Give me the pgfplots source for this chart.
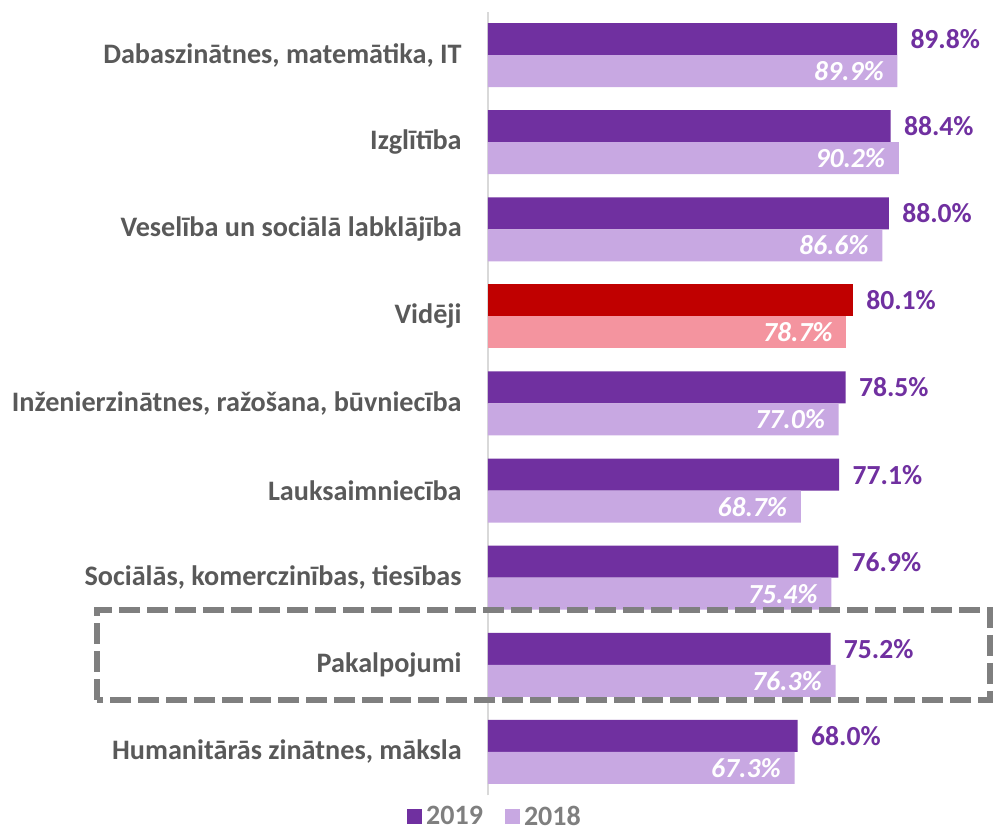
\documentclass[border=0pt]{standalone}
\usepackage{fontspec}
\setmainfont{Carlito}
\usepackage{pgfplots}
\pgfplotsset{compat=1.18}
\definecolor{Purple}{HTML}{7030A0}
\definecolor{Lilac}{HTML}{C8A8E2}
\definecolor{DarkRed}{HTML}{C00000}
\definecolor{Pink}{HTML}{F4949F}
\definecolor{LabelGray}{HTML}{595959}
\definecolor{LegGray}{HTML}{7F7F7F}
\definecolor{AxisGray}{HTML}{D9D9D9}
\definecolor{BoxGray}{HTML}{7F7F7F}

\begin{document}
\begin{tikzpicture}
\useasboundingbox (0,0) rectangle (496.5pt,415pt);
\begin{axis}[
  at={(244pt,17.25pt)}, anchor=south west,
  scale only axis, width=227.75pt, height=392pt,
  xmin=0, xmax=100, ymin=-0.5, ymax=8.5,
  xbar, bar width=16pt,
  hide x axis,
  axis y line*=left,
  y axis line style={draw=AxisGray, line width=1pt, -},
  ytick={0,...,8},
  major tick length=0pt,
  yticklabels={{Humanitārās zinātnes, māksla},{Pakalpojumi},{Sociālās, komerczinības, tiesības},{Lauksaimniecība},{Inženierzinātnes, ražošana, būvniecība},{Vidēji},{Veselība un sociālā labklājība},{Izglītība},{Dabaszinātnes, matemātika, IT}},
  yticklabel style={font=\fontsize{14.1}{16}\selectfont\bfseries, text=LabelGray, inner sep=0pt, xshift=-13pt},
  point meta=x,
  nodes near coords={\pgfmathprintnumber[fixed,fixed zerofill,precision=1,assume math mode=true]{\pgfplotspointmeta}\%},
  legend columns=2,
  legend style={at={(rel axis cs:0.0176,-0.0274)}, anchor=center, draw=none, fill=none,
    font=\fontsize{14}{16}\selectfont\bfseries, text=LegGray,
    /tikz/every even column/.append style={column sep=9pt}},
  legend image code/.code={\fill[#1] (0pt,-3.75pt) rectangle (7.5pt,3.75pt);},
]
\addplot[fill=Purple, draw=none, bar shift=8pt,
  every node near coord/.append style={font=\fontsize{13.8}{16}\selectfont\bfseries, text=Purple, anchor=west, xshift=3.2pt}]
  coordinates {(89.8,8) (88.4,7) (88.0,6) (78.5,4) (77.1,3) (76.9,2) (75.2,1) (68.0,0)};
\addlegendentry{\textbf{2019}}
\addplot[fill=Lilac, draw=none, bar shift=-8pt,
  every node near coord/.append style={font=\fontsize{13.8}{16}\selectfont\bfseries\itshape, text=white, anchor=east, xshift=-3.4pt}]
  coordinates {(89.9,8) (90.2,7) (86.6,6) (77.0,4) (68.7,3) (75.4,2) (76.3,1) (67.3,0)};
\addlegendentry{\textbf{2018}}
\addplot[fill=DarkRed, draw=none, bar shift=8pt, forget plot,
  every node near coord/.append style={font=\fontsize{13.8}{16}\selectfont\bfseries, text=Purple, anchor=west, xshift=3.2pt}]
  coordinates {(80.1,5)};
\addplot[fill=Pink, draw=none, bar shift=-8pt, forget plot,
  every node near coord/.append style={font=\fontsize{13.8}{16}\selectfont\bfseries\itshape, text=white, anchor=east, xshift=-3.4pt}]
  coordinates {(78.7,5)};
\end{axis}
\draw[BoxGray, line width=3pt, dash pattern=on 10.5pt off 3.5pt] (48.5pt,65pt) rectangle (495pt,110pt);
\end{tikzpicture}
\end{document}
